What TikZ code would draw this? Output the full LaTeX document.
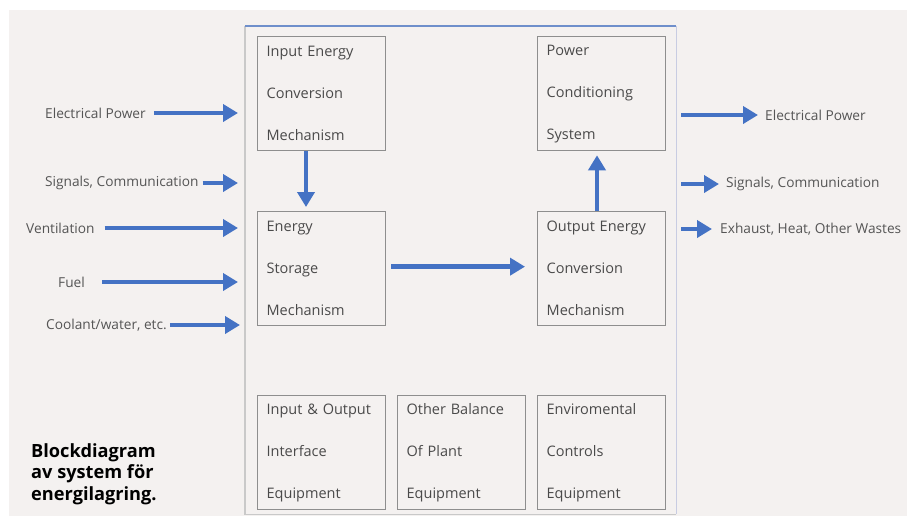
\documentclass[tikz,border=0pt]{standalone}
\usepackage{fontspec}
\setmainfont{Open Sans}
\usetikzlibrary{arrows.meta,calc}
\definecolor{bgcol}{HTML}{F4F1F0}
\definecolor{arrowblue}{HTML}{4472C4}
\definecolor{boxline}{HTML}{8E8E8E}
\definecolor{boxtext}{HTML}{4A4A4A}
\definecolor{labtext}{HTML}{555555}
\definecolor{frameblue}{HTML}{6F8FCB}
\definecolor{framegray}{HTML}{C9C9C9}
\definecolor{frameright}{HTML}{C8CCE2}
\tikzset{
  blk/.style={draw=boxline, line width=1.3pt, fill=bgcol, anchor=north west,
    text width=110pt, inner xsep=9pt, inner ysep=0pt, minimum height=114pt,
    align=left, text=boxtext, font=\fontsize{14.5}{42}\selectfont},
  lab/.style={text=labtext, inner sep=0pt, font=\fontsize{13.7}{16}\selectfont},
  barrow/.style={draw=arrowblue, line width=4.6pt,
    -{Triangle[length=15pt,width=17pt]}},
}
\begin{document}
\begin{tikzpicture}[x=1pt,y=-1pt]
\useasboundingbox (0,0) rectangle (907,517);
\fill[bgcol] (9,10) rectangle (907,516);

% container frame
\node[minimum width=431pt, minimum height=488pt, anchor=north west, inner sep=0pt] (frame) at (245,26) {};
\draw[framegray, line width=1.2pt] (frame.north west) -- (frame.south west) -- (frame.south east);
\draw[frameright, line width=1.5pt] (frame.south east) -- (frame.north east);
\draw[frameblue, line width=1.5pt] (frame.north west) -- (frame.north east);

% blocks
\node[blk] (iec) at (257,36) {Input Energy\\Conversion\\Mechanism};
\node[blk] (esm) at (257,211) {Energy\\Storage\\Mechanism};
\node[blk] (pcs) at (537,36) {Power\\Conditioning\\System};
\node[blk] (oec) at (537,211) {Output Energy\\Conversion\\Mechanism};
\node[blk] (ioe) at (257,395) {Input \& Output\\Interface\\Equipment};
\node[blk] (obp) at (397,395) {Other Balance\\Of Plant\\Equipment};
\node[blk] (ece) at (537,395) {Enviromental\\Controls\\Equipment};

% internal arrows
\draw[barrow] ([xshift=49pt]iec.south west) -- ([xshift=49pt,yshift=4pt]esm.north west);
\draw[barrow] ([xshift=5pt,yshift=2pt]esm.east) -- ([xshift=-12pt,yshift=2pt]oec.west);
\draw[barrow] ([xshift=60pt]oec.north west) -- ([xshift=60pt,yshift=-4pt]pcs.south west);

% left inputs
\node[lab, anchor=west] (l1) at (45,113) {Electrical Power};
\node[lab, anchor=west] (l2) at (45,183) {Signals, Communication};
\node[lab, anchor=west] (l3) at (26,228) {Ventilation};
\node[lab, anchor=west] (l4) at (58,282) {Fuel};
\node[lab, anchor=west] (l5) at (46,325) {Coolant/water, etc.};
\coordinate (e1) at (238,113);
\coordinate (e2) at (238,183);
\coordinate (e3) at (238,228);
\coordinate (e4) at (238,282);
\coordinate (e5) at (240,325);
\draw[barrow] ([xshift=8pt]l1.east) -- (e1);
\draw[barrow] ([xshift=4pt]l2.east) -- (e2);
\draw[barrow] ([xshift=10pt]l3.east) -- (e3);
\draw[barrow] ([xshift=17pt]l4.east) -- (e4);
\draw[barrow] ([xshift=3pt]l5.east) -- (e5);

% right outputs
\node[lab, anchor=west] (r1) at (765,115) {Electrical Power};
\node[lab, anchor=west] (r2) at (726,184) {Signals, Communication};
\node[lab, anchor=west] (r3) at (720,229) {Exhaust, Heat, Other Wastes};
\coordinate (s1) at (681,115);
\coordinate (s2) at (681,184);
\coordinate (s3) at (681,229);
\draw[barrow] (s1) -- ([xshift=-7pt]r1.west);
\draw[barrow] (s2) -- ([xshift=-7pt]r2.west);
\draw[barrow] (s3) -- ([xshift=-8pt]r3.west);

% caption
\node[anchor=north west, align=left, inner sep=0pt,
  font=\fontsize{18.2}{21.5}\selectfont\bfseries] (cap) at (31,443)
  {Blockdiagram\\av system för\\energilagring.};
\end{tikzpicture}
\end{document}
